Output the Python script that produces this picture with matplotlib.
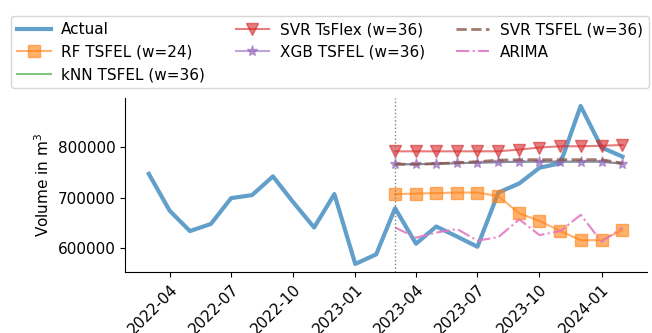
import numpy as np
import pandas as pd
from matplotlib import pyplot as plt
import matplotlib.dates as mdates

plt.rcParams['font.size'] = 11

actual_dates = pd.date_range('2022-03-01', '2024-02-01', freq='MS')
actual = [747000, 674000, 634000, 648000, 699000, 705000, 742000, 691000,
          641000, 707000, 569000, 588000, 679000, 609000, 643000, 623000,
          603000, 710000, 728000, 759000, 768000, 881000, 799000, 781000]

fc_dates = pd.date_range('2023-03-01', '2024-02-01', freq='MS')
rf_tsfel = [707000, 708000, 709000, 710000, 710000, 703000,
            669000, 654000, 634000, 616000, 616000, 636000]
knn_tsfel = [766000, 766000, 767000, 768000, 769000, 770000,
             771000, 771000, 771000, 771000, 771000, 767000]
svr_tsflex = [791500, 791500, 791500, 791500, 791500, 791500,
              795000, 799000, 801500, 801500, 802500, 804000]
xgb_tsfel = [766000, 766000, 767000, 768000, 769000, 770000,
             771000, 771000, 771000, 771000, 771000, 767000]
svr_tsfel = [766000, 766000, 767000, 769000, 771000, 774000,
             775000, 775000, 775000, 775000, 775000, 768000]
arima = [641000, 621000, 631000, 638000, 615000, 622000,
         657000, 626000, 634000, 666000, 613000, 641000]

split_date = pd.Timestamp('2023-03-01')

fig = plt.figure(figsize=(6.52, 3.33), dpi=100)
ax = fig.add_axes([0.192, 0.183, 0.8, 0.523])

ax.plot(actual_dates, actual, color='tab:blue', lw=3, alpha=0.7, label='Actual')
ax.plot(fc_dates, rf_tsfel, color='tab:orange', marker='s', ms=8, alpha=0.6,
        label='RF TSFEL (w=24)')
ax.plot(fc_dates, knn_tsfel, color='tab:green', alpha=0.6, label='kNN TSFEL (w=36)')
ax.plot(fc_dates, svr_tsflex, color='tab:red', marker='v', ms=8, alpha=0.6,
        label='SVR TsFlex (w=36)')
ax.plot(fc_dates, xgb_tsfel, color='tab:purple', marker='*', ms=8, alpha=0.6,
        label='XGB TSFEL (w=36)')
ax.plot(fc_dates, svr_tsfel, color='tab:brown', ls='--', lw=2, alpha=0.8,
        label='SVR TSFEL (w=36)')
ax.plot(fc_dates, arima, color='tab:pink', ls='-.', lw=1.5, alpha=0.9, label='ARIMA')
ax.axvline(split_date, color='gray', ls=':', lw=1)

ax.set_xlim(pd.Timestamp('2022-01-25'), pd.Timestamp('2024-03-08'))
ax.set_ylim(553000, 897000)
ax.set_yticks([600000, 700000, 800000])
ax.xaxis.set_major_locator(mdates.MonthLocator(bymonth=[1, 4, 7, 10]))
ax.xaxis.set_major_formatter(mdates.DateFormatter('%Y-%m'))
plt.setp(ax.get_xticklabels(), rotation=45, ha='right', rotation_mode='anchor')
ax.set_ylabel('Volume in m$^3$')
ax.spines['top'].set_visible(False)
ax.spines['right'].set_visible(False)

fig.legend(loc='upper center', bbox_to_anchor=(0.506, 0.975), ncol=3,
           handlelength=2.2, handletextpad=0.7)

fig.savefig('out.png', dpi=100)
